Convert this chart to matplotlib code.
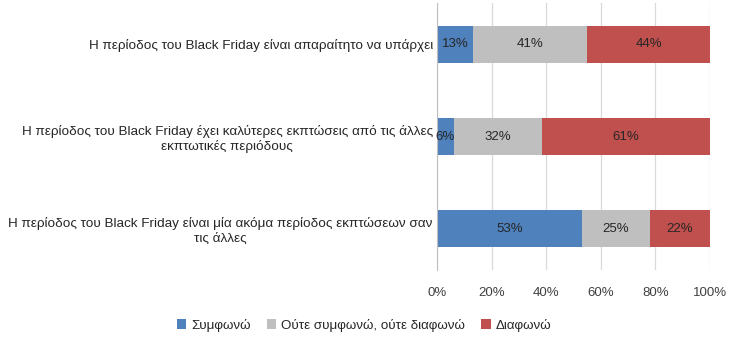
import numpy as np
import matplotlib.pyplot as plt
from matplotlib.ticker import PercentFormatter

plt.rcParams['font.family'] = ['Liberation Sans', 'DejaVu Sans']

# --- δεδομένα έρευνας ---
statements = [
    'Η περίοδος του Black Friday είναι απαραίτητο να υπάρχει',
    'Η περίοδος του Black Friday έχει καλύτερες εκπτώσεις από τις άλλες\nεκπτωτικές περιόδους',
    'Η περίοδος του Black Friday είναι μία ακόμα περίοδος εκπτώσεων σαν\nτις άλλες',
]
agree = [13, 6, 53]
neutral = [41, 32, 25]
disagree = [44, 61, 22]
series_names = ['Συμφωνώ', 'Ούτε συμφωνώ, ούτε διαφωνώ', 'Διαφωνώ']
colors = ['#4F81BD', '#BFBFBF', '#C0504D']

fig = plt.figure(figsize=(7.34, 3.41), dpi=100)
ax = fig.add_axes([437 / 734, 1 - 270 / 341, 273 / 734, 267 / 341])

# 100% stacked: κάθε γραμμή κανονικοποιείται στο σύνολό της
data = np.array([agree, neutral, disagree], dtype=float)
shares = data / data.sum(axis=0) * 100
y = np.arange(len(statements))[::-1]

left = np.zeros(len(statements))
for vals, shown, name, col in zip(shares, data, series_names, colors):
    ax.barh(y, vals, left=left, height=0.4, color=col, label=name, zorder=2)
    for yi, l, v, s in zip(y, left, vals, shown):
        ax.text(l + v / 2, yi, f'{int(s)}%', ha='center', va='center',
                fontsize=9.5, color='#262626', zorder=3)
    left += vals

ax.set_xlim(0, 100)
ax.set_ylim(-0.45, 2.45)
ax.set_xticks(np.arange(0, 101, 20))
ax.xaxis.set_major_formatter(PercentFormatter(decimals=0))
ax.set_yticks(y)
ax.set_yticklabels(statements, fontsize=9.7, multialignment='center', color='#262626')
ax.tick_params(axis='y', length=0, pad=3)
ax.tick_params(axis='x', length=0, pad=12, labelsize=9.5, colors='#404040')
ax.grid(axis='x', color='#D9D9D9', linewidth=0.9, zorder=0)
for side in ['top', 'right', 'bottom']:
    ax.spines[side].set_visible(False)
ax.spines['left'].set_color('#BFBFBF')

fig.legend(loc='center', bbox_to_anchor=(364 / 734, 1 - 325 / 341), ncol=3,
           frameon=False, fontsize=9.6, handlelength=0.7, handleheight=0.7,
           handletextpad=0.4, columnspacing=1.2, labelcolor='#262626')

fig.savefig('out.png', dpi=100)
